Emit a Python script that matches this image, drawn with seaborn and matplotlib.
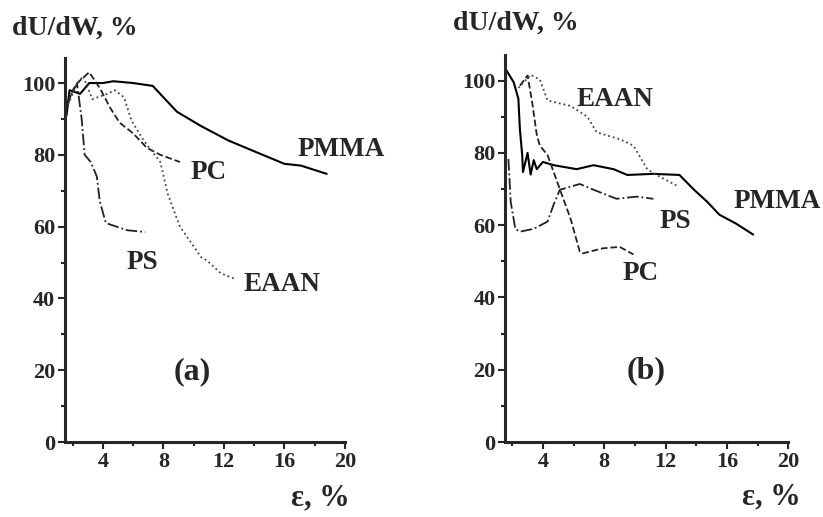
import numpy as np
import pandas as pd
import matplotlib.pyplot as plt
import seaborn as sns
from matplotlib.ticker import MultipleLocator

# panel (a)
a_pmma_x = [1.6, 1.8, 2.5, 3.1, 4.0, 4.7, 6.0, 7.3, 8.9, 10.5, 12.3, 14.0, 16.0, 17.1, 18.8]
a_pmma_y = [91, 98, 97, 100, 100, 100.5, 100, 99.2, 92, 88, 84, 81, 77.5, 77, 74.7]
a_ps_x = [1.6, 2.0, 2.3, 2.6, 2.8, 3.2, 3.6, 3.8, 4.2, 5.6, 6.8]
a_ps_y = [93, 98, 99.7, 90, 80, 78, 74, 67, 61, 59, 58.5]
a_pc_x = [1.7, 2.3, 3.1, 3.8, 4.5, 5.1, 6.0, 6.9, 7.8, 9.1]
a_pc_y = [95, 100, 103, 98.6, 93, 89, 86, 82, 80, 78]
a_eaan_x = [1.7, 2.2, 2.7, 3.3, 4.3, 4.8, 5.4, 5.9, 6.7, 7.8, 8.3, 9.1, 10.5, 10.9, 11.8, 12.7]
a_eaan_y = [94, 99, 102, 95.5, 97, 98, 96, 89.5, 84, 78, 69, 60, 51.5, 50.5, 47, 45.5]

# panel (b)
b_pmma_x = [1.6, 2.1, 2.4, 2.5, 2.65, 2.7, 3.0, 3.2, 3.4, 3.6, 4.0, 4.7, 6.2, 7.3, 8.6, 9.5, 11.2, 12.9, 13.8, 14.7, 15.5, 16.6, 17.7]
b_pmma_y = [103, 99.5, 95, 86.5, 79.4, 74.7, 80, 74, 78, 75.5, 77.5, 76.6, 75.5, 76.6, 75.5, 73.9, 74.2, 73.9, 70, 66.5, 62.9, 60.4, 57.4]
b_ps_x = [1.75, 1.9, 2.2, 2.5, 3.4, 4.3, 4.7, 5.1, 6.4, 7.3, 8.8, 10.1, 11.2]
b_ps_y = [78.3, 66.5, 59, 58.2, 59, 61, 65.7, 69.8, 71.4, 69.8, 67.3, 67.9, 67.3]
b_pc_x = [2.5, 3.0, 3.3, 3.6, 3.8, 4.3, 4.7, 5.1, 5.8, 6.4, 6.6, 7.9, 9.0, 9.9]
b_pc_y = [98.6, 101.4, 94, 85, 82, 79.4, 74.7, 70, 61.8, 52.7, 52.2, 53.6, 54, 51.9]
b_eaan_x = [2.4, 3.2, 3.8, 4.3, 5.8, 6.9, 7.5, 9.0, 9.9, 10.8, 11.4, 12.7]
b_eaan_y = [98, 101.6, 100.3, 94.5, 93, 90, 85.7, 83.8, 82, 75.5, 73.9, 71]

# linestyle, width, colour
styles = {"PMMA": ("-", 1.5, "black"), "PS": ("-.", 1.3, "#222222"),
          "PC": ("--", 1.3, "#222222"), "EAAN": (":", 1.3, "#444444")}

sns.set_style("ticks")
plt.rcParams['font.family'] = ['Liberation Serif', 'DejaVu Serif']

fig = plt.figure(figsize=(8.23, 5.17), dpi=100)
ax_a = fig.add_axes([0.079, 0.145, 0.340, 0.743])
ax_b = fig.add_axes([0.614, 0.145, 0.344, 0.748])

panels = [
    (ax_a, {"PMMA": (a_pmma_x, a_pmma_y), "PS": (a_ps_x, a_ps_y),
            "PC": (a_pc_x, a_pc_y), "EAAN": (a_eaan_x, a_eaan_y)}, 1.5),
    (ax_b, {"PMMA": (b_pmma_x, b_pmma_y), "PS": (b_ps_x, b_ps_y),
            "PC": (b_pc_x, b_pc_y), "EAAN": (b_eaan_x, b_eaan_y)}, 1.55),
]

for ax, series, x0 in panels:
    for name, (xs, ys) in series.items():
        ls, lw, col = styles[name]
        df = pd.DataFrame({"x": xs, "y": ys})
        sns.lineplot(data=df, x="x", y="y", ax=ax, color=col, linestyle=ls,
                     linewidth=lw, sort=False, estimator=None)
    ax.set_xlim(x0, 20)
    ax.set_ylim(0, 107)
    ax.set_xlabel("")
    ax.set_ylabel("")
    ax.xaxis.set_major_locator(MultipleLocator(4))
    ax.xaxis.set_minor_locator(MultipleLocator(2))
    ax.yaxis.set_major_locator(MultipleLocator(20))
    ax.yaxis.set_minor_locator(MultipleLocator(10))
    ax.tick_params(which="major", length=5, width=1.5, labelsize=16, pad=2)
    ax.tick_params(which="minor", length=3, width=1.5)
    for sp in ["left", "bottom"]:
        ax.spines[sp].set_linewidth(2.2)
    sns.despine(ax=ax)
    for lbl in ax.get_xticklabels() + ax.get_yticklabels():
        lbl.set_fontweight("bold")

lab = dict(fontsize=19.5, fontweight="bold")
ax_a.text(16.9, 81.6, "PMMA", va="center", clip_on=False, **lab)
ax_a.text(9.8, 75, "PC", va="center", **lab)
ax_a.text(5.6, 50, "PS", va="center", **lab)
ax_a.text(13.3, 44, "EAAN", va="center", **lab)
ax_a.text(9.9, 19.5, "(a)", ha="center", va="center", fontsize=23, fontweight="bold")

ax_b.text(6.2, 94.8, "EAAN", va="center", **lab)
ax_b.text(16.4, 66.5, "PMMA", va="center", clip_on=False, **lab)
ax_b.text(11.6, 61, "PS", va="center", **lab)
ax_b.text(9.2, 46.7, "PC", va="center", **lab)
ax_b.text(10.75, 19.8, "(b)", ha="center", va="center", fontsize=23, fontweight="bold")

ylab = dict(fontsize=20, fontweight="bold", va="center")
fig.text(12 / 823, 1 - 28 / 517, "dU/dW, %", **ylab)
fig.text(453 / 823, 1 - 23 / 517, "dU/dW, %", **ylab)
xlab = dict(fontsize=22, fontweight="bold", ha="center", va="center")
fig.text(320 / 823, 1 - 498 / 517, "ε, %", **xlab)
fig.text(771 / 823, 1 - 497 / 517, "ε, %", **xlab)

fig.savefig("out.png", dpi=100)
